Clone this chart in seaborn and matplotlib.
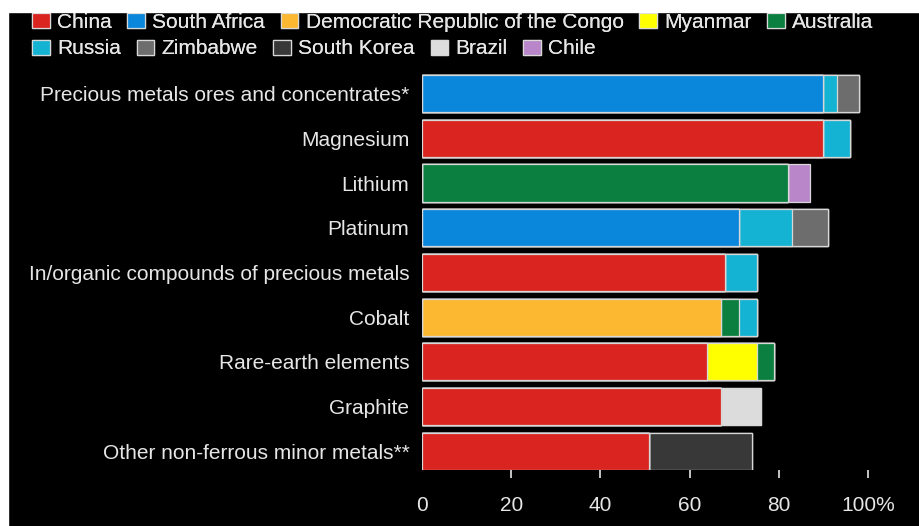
import numpy as np
import pandas as pd
import matplotlib
matplotlib.use("Agg")
import matplotlib.pyplot as plt
import seaborn as sns
from matplotlib.patches import Rectangle

# share of EU imports by supplier country (%)
materials = ["Precious metals ores and concentrates*", "Magnesium", "Lithium", "Platinum",
             "In/organic compounds of precious metals", "Cobalt", "Rare-earth elements",
             "Graphite", "Other non-ferrous minor metals**"]
countries = ["China", "South Africa", "Democratic Republic of the Congo", "Myanmar", "Australia",
             "Russia", "Zimbabwe", "South Korea", "Brazil", "Chile"]
china        = [0, 90, 0, 0, 68, 0, 64, 67, 51]
south_africa = [90, 0, 0, 71, 0, 0, 0, 0, 0]
drc          = [0, 0, 0, 0, 0, 67, 0, 0, 0]
myanmar      = [0, 0, 0, 0, 0, 0, 11, 0, 0]
australia    = [0, 0, 82, 0, 0, 4, 4, 0, 0]
russia       = [3, 6, 0, 12, 7, 4, 0, 0, 0]
zimbabwe     = [5, 0, 0, 8, 0, 0, 0, 0, 0]
south_korea  = [0, 0, 0, 0, 0, 0, 0, 0, 23]
brazil       = [0, 0, 0, 0, 0, 0, 0, 9, 0]
chile        = [0, 0, 5, 0, 0, 0, 0, 0, 0]
xticks = [0, 20, 40, 60, 80, 100]
xtick_labels = ["0", "20", "40", "60", "80", "100%"]

palette = ["#da241f", "#0a87da", "#fbb830", "#ffff00", "#0a7f3f",
           "#14b3d3", "#6d6d6d", "#383838", "#dcdcdc", "#b987c9"]

df = pd.DataFrame(dict(zip(countries, [china, south_africa, drc, myanmar, australia, russia,
                                        zimbabwe, south_korea, brazil, chile])), index=materials)
cum = df.cumsum(axis=1)

sns.set_style("dark", {"axes.facecolor": "black", "figure.facecolor": "black"})
plt.rcParams["font.family"] = ["Liberation Sans", "DejaVu Sans"]
txt = "#e6e6e6"
edge = "#d8d8d8"
fs = 15

fig = plt.figure(figsize=(9.2, 5.26), dpi=100)
ax = fig.add_axes([422 / 920, 56 / 526, 498 / 920, 398.7 / 526])

# stacked bars: draw cumulative totals from the last country back to the first
handles = {}
for country, col in reversed(list(zip(countries, palette))):
    sns.barplot(x=cum[country].values, y=materials, orient="h", color=col, saturation=1,
                width=0.83, edgecolor=edge, linewidth=0.9, ax=ax)
    handles[country] = ax.containers[-1].patches[0]

ax.set_xlim(0, 498 / 4.46)
ax.set_ylim(8.42, -0.5)
ax.set_xlabel("")
ax.set_ylabel("")
ax.grid(False)
for s in ax.spines.values():
    s.set_visible(False)
ax.set_xticks(xticks, labels=xtick_labels)
ax.tick_params(axis="x", colors=txt, labelsize=fs, length=6, width=1.2, direction="out",
               pad=12.5, bottom=True)
ax.xaxis.get_major_ticks()[0].tick1line.set_visible(False)
ax.tick_params(axis="y", colors=txt, labelsize=fs, length=0, pad=9)

# legend in two flowing rows
rows = [countries[:5], countries[5:]]
for row, yc in zip(rows, [22, 49]):
    leg = fig.legend([handles[c] for c in row], row, loc="center left",
                     bbox_to_anchor=(32 / 920, 1 - yc / 526), ncol=5, frameon=False,
                     fontsize=fs, labelcolor=txt, handlelength=0.85, handleheight=0.75,
                     handletextpad=0.35, columnspacing=0.75, borderpad=0, borderaxespad=0)
    fig.add_artist(leg)

# white strips along the top and left edges of the screenshot
fig.patches.append(Rectangle((0, 1 - 12 / 526), 1, 12 / 526, transform=fig.transFigure,
                             color="white", zorder=10))
fig.patches.append(Rectangle((0, 0), 8 / 920, 1, transform=fig.transFigure,
                             color="white", zorder=10))

fig.savefig("out.png", dpi=100, facecolor="black")
